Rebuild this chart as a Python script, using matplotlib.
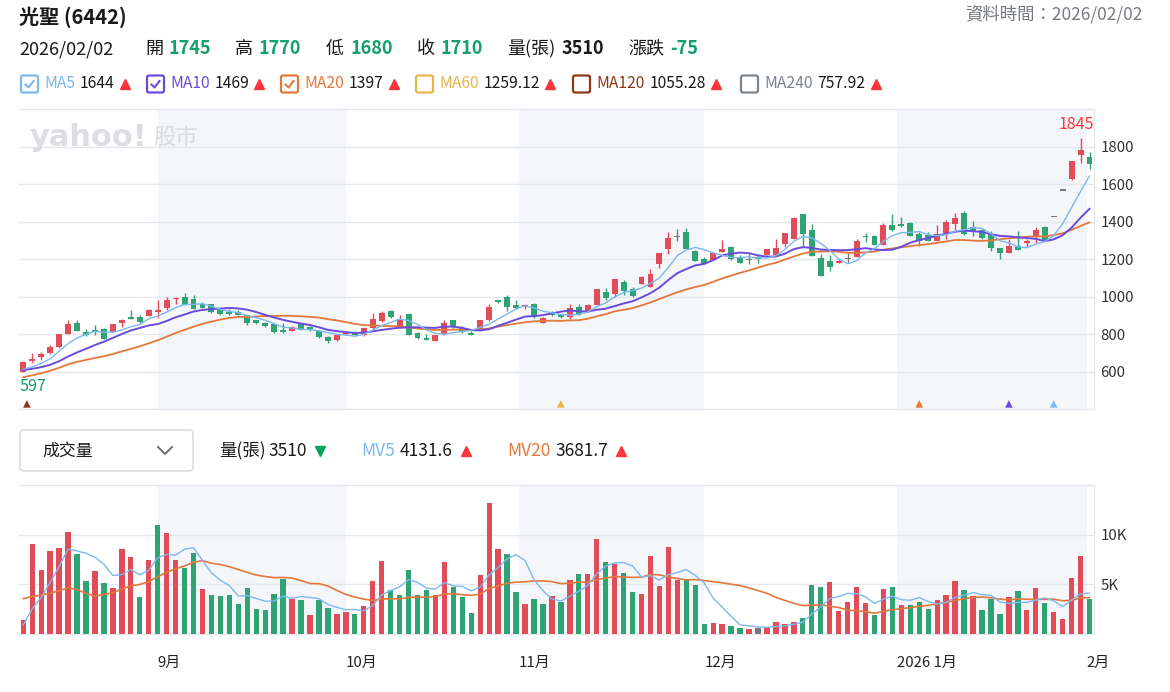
import numpy as np
import pandas as pd
import matplotlib
matplotlib.use("Agg")
import matplotlib.pyplot as plt
import matplotlib.transforms as mtransforms
from matplotlib.patches import FancyBboxPatch
from matplotlib.lines import Line2D

plt.rcParams["font.family"] = ["Noto Sans CJK TC", "DejaVu Sans"]

# daily bars 2025/08/11 .. 2026/02/02
opens = [598, 655, 677, 702, 731, 802, 859, 811, 823, 830,
         814, 862, 894, 891, 898, 917, 938, 987, 1001, 987,
         960, 960, 933, 921, 919, 903, 876, 862, 855, 823,
         818, 859, 840, 819, 784, 770, 800, 814, 796, 832,
         871, 926, 841, 908, 809, 782, 764, 800, 876, 834,
         806, 818, 876, 983, 1001, 956, 944, 962, 862, 917,
         903, 894, 948, 921, 956, 1027, 1015, 1081, 1042, 1068,
         1054, 1175, 1255, 1321, 1348, 1246, 1200, 1196, 1241, 1267,
         1209, 1200, 1210, 1223, 1223, 1282, 1307, 1442, 1356, 1209,
         1193, 1180, 1205, 1214, 1324, 1324, 1276, 1383, 1388, 1396,
         1335, 1330, 1298, 1339, 1388, 1449, 1374, 1356, 1335, 1259,
         1236, 1273, 1289, 1324, 1371, 1430, 1570, 1630, 1756, 1745]
highs = [655, 698, 707, 743, 802, 876, 876, 827, 848, 834,
         857, 884, 930, 903, 934, 983, 1001, 1001, 1022, 1010,
         974, 962, 935, 933, 930, 903, 878, 866, 862, 859,
         844, 862, 845, 823, 791, 798, 810, 818, 840, 912,
         925, 928, 903, 912, 811, 800, 798, 876, 878, 844,
         818, 878, 962, 985, 1010, 983, 962, 966, 890, 926,
         905, 962, 962, 962, 1042, 1049, 1093, 1090, 1054, 1110,
         1147, 1235, 1348, 1360, 1369, 1250, 1214, 1235, 1303, 1270,
         1223, 1228, 1228, 1255, 1306, 1342, 1428, 1442, 1388, 1228,
         1223, 1200, 1232, 1310, 1342, 1330, 1396, 1442, 1424, 1398,
         1348, 1348, 1383, 1410, 1449, 1456, 1404, 1360, 1353, 1259,
         1307, 1353, 1307, 1371, 1378, 1430, 1570, 1725, 1845, 1770]
lows = [597, 645, 663, 695, 728, 800, 815, 791, 796, 775,
        812, 841, 883, 862, 896, 885, 930, 960, 956, 933,
        939, 915, 905, 903, 901, 850, 855, 841, 809, 809,
        816, 825, 819, 782, 755, 766, 795, 793, 793, 823,
        867, 889, 832, 796, 777, 770, 763, 796, 835, 809,
        796, 816, 873, 969, 926, 935, 935, 889, 860, 898,
        889, 882, 903, 917, 955, 983, 1001, 1010, 1001, 1066,
        1054, 1152, 1228, 1300, 1255, 1189, 1175, 1194, 1241, 1198,
        1182, 1175, 1178, 1221, 1221, 1268, 1307, 1268, 1218, 1111,
        1140, 1180, 1182, 1210, 1294, 1276, 1276, 1353, 1374, 1324,
        1271, 1296, 1298, 1306, 1356, 1330, 1324, 1306, 1244, 1200,
        1236, 1250, 1268, 1289, 1300, 1430, 1570, 1625, 1712, 1680]
closes = [652, 670, 695, 731, 800, 855, 818, 796, 811, 777,
          855, 876, 883, 868, 932, 928, 983, 996, 956, 937,
          942, 917, 909, 906, 904, 862, 859, 844, 814, 811,
          841, 825, 830, 784, 766, 795, 807, 796, 835, 880,
          915, 891, 884, 796, 779, 770, 796, 862, 837, 812,
          797, 876, 948, 974, 944, 938, 956, 891, 887, 903,
          891, 939, 908, 956, 1040, 996, 1093, 1031, 1004, 1108,
          1122, 1235, 1315, 1321, 1255, 1191, 1175, 1232, 1253, 1200,
          1182, 1200, 1200, 1253, 1262, 1342, 1419, 1335, 1218, 1111,
          1157, 1189, 1205, 1300, 1317, 1276, 1383, 1356, 1378, 1324,
          1300, 1296, 1333, 1401, 1422, 1335, 1353, 1315, 1259, 1236,
          1270, 1250, 1295, 1355, 1300, 1430, 1570, 1725, 1785, 1710]
volumes = [1430, 9030, 6430, 8330, 8700, 10300, 8030, 5300, 6300, 5170,
           4670, 8530, 7800, 3700, 7430, 10930, 10200, 7430, 6670, 8200,
           4530, 3930, 3800, 3930, 3030, 4670, 2530, 2430, 4030, 5530,
           3530, 3430, 1930, 3430, 2670, 2030, 2270, 2030, 2800, 5300,
           7330, 4430, 3930, 6430, 3930, 4430, 3930, 7200, 4770, 3700,
           2170, 5930, 13170, 8530, 8030, 4270, 3030, 3530, 3030, 3830,
           3270, 5430, 6030, 6030, 9530, 7200, 7030, 6170, 4270, 4030,
           7900, 4830, 8800, 5430, 5500, 4930, 1030, 1170, 1030, 830,
           670, 530, 670, 770, 1270, 1030, 1270, 1670, 4900, 4770,
           5270, 2300, 3270, 4770, 3170, 1930, 4530, 4770, 2930, 2930,
           3270, 2530, 3430, 3930, 5300, 4430, 3830, 2430, 3530, 2030,
           3700, 4345, 2430, 4600, 3170, 2200, 1530, 5600, 7815, 3510]

# sessions before the window, only used to start the moving averages
pre_closes = [465, 470, 475, 478, 483, 560, 585, 600, 605, 607,
              600, 610, 605, 607, 605, 600, 605, 610, 598]
pre_volumes = [4300, 4100, 4000, 4200, 4199, 11500, 12800, 12000, 1700, 1467,
               1200, 1100, 1066, 1500, 1468, 900, 800, 750, 782]

month_labels = ["9月", "10月", "11月", "12月", "2026 1月", "2月"]
month_starts = [15, 36, 55.33, 76, 97.5, 118.67]

ma_names = ["MA5", "MA10", "MA20", "MA60", "MA120", "MA240"]
ma_values = ["1644", "1469", "1397", "1259.12", "1055.28", "757.92"]
ma_shown = [True, True, True, False, False, False]
vol_ma_names = ["MV5", "MV20"]
vol_ma_values = ["4131.6", "3681.7"]

signal_idx = [0.4, 60, 100, 110, 115]
signal_ma = ["MA120", "MA60", "MA20", "MA10", "MA5"]

RED, GREEN, GREY = "#e04c57", "#2fa374", "#777777"
GRID, BAND = "#e4e7eb", "#f4f6f9"
UP, DOWN = "#ff333a", "#00a35a"
VAL_GREEN = "#14a06b"
ma_colors = {"MA5": "#7cb8f2", "MA10": "#6a4bdc", "MA20": "#e2783a",
             "MA60": "#e8b54a", "MA120": "#8b3816", "MA240": "#7f858d"}
vol_ma_colors = {"MV5": "#7cb8f2", "MV20": "#e2783a"}

n = len(closes)
x = np.arange(n)
o, h, l, c = map(np.array, (opens, highs, lows, closes))
v = np.array(volumes)

all_c = pd.Series(pre_closes + closes)
all_v = pd.Series(pre_volumes + volumes)
ma = {f"MA{k}": all_c.rolling(k).mean().to_numpy()[-n:] for k in (5, 10, 20)}
mv = {f"MV{k}": all_v.rolling(k).mean().to_numpy()[-n:] for k in (5, 20)}

W, H = 1170, 692
fig = plt.figure(figsize=(W / 100, H / 100), dpi=100)
tr = fig.dpi_scale_trans
renderer = fig.canvas.get_renderer()


def at(px, py):
    return px / 100, (H - py) / 100


def put(px, py, s, **kw):
    kw.setdefault("va", "center")
    kw.setdefault("color", "#1a1a1a")
    return fig.text(*at(px, py), s, transform=tr, **kw)


def run(px, py, s, gap=0, **kw):
    t = put(px, py, s, **kw)
    return px + t.get_window_extent(renderer).width + gap


def tri(px, py, color, up=True, ms=7.5):
    fig.add_artist(Line2D([px / 100], [(H - py) / 100], transform=tr, lw=0,
                          marker="^" if up else "v", ms=ms, color=color))


def checkbox(px, py, color, checked):
    fig.add_artist(FancyBboxPatch(at(px, py + 8.5), 0.17, 0.17, transform=tr,
                                  boxstyle="round,pad=0,rounding_size=0.02",
                                  fc="white", ec=color, lw=1.6))
    if checked:
        xs = [px + 4.5, px + 7.5, px + 12.5]
        ys = [py + 0.5, py + 3.5, py - 3]
        fig.add_artist(Line2D([q / 100 for q in xs], [(H - q) / 100 for q in ys],
                              transform=tr, color=color, lw=1.5))


# header
put(19, 17, "光聖 (6442)", fontsize=14.5, fontweight="bold")
put(1143, 14, "資料時間：2026/02/02", fontsize=12.5, color="#777b80", ha="right")

row = [("開", f"{o[-1]}", VAL_GREEN, 145), ("高", f"{h[-1]}", VAL_GREEN, 235),
       ("低", f"{l[-1]}", VAL_GREEN, 326), ("收", f"{c[-1]}", VAL_GREEN, 417),
       ("量(張)", f"{v[-1]}", "#1a1a1a", 507),
       ("漲跌", f"{c[-1] - c[-2]}", VAL_GREEN, 628)]
put(19, 49, "2026/02/02", fontsize=13)
for lab, val, col, px in row:
    e = run(px, 49, lab, gap=6, fontsize=13)
    put(e, 49, val, fontsize=13, fontweight="bold", color=col)

# MA legend row
box_x = [21, 147, 281, 416, 573, 741]
for name, val, shown, bx in zip(ma_names, ma_values, ma_shown, box_x):
    col = ma_colors[name]
    checkbox(bx, 84, col, shown)
    e = run(bx + 23, 84, name, gap=5, fontsize=11.3, color=col)
    e = run(e, 84, val, gap=0, fontsize=11.3)
    tri(e + 10, 84, UP)

# axes
left, right = 18.8, 1094.0
ax = fig.add_axes([left / W, 1 - 409.3 / H, (right - left) / W, 300 / H])
axv = fig.add_axes([left / W, 1 - 634.3 / H, (right - left) / W, 149.6 / H])

for a, ticks, labels in ((ax, np.arange(400, 2001, 200), None),
                         (axv, [0, 5000, 10000, 15000], ["", "5K", "10K", ""])):
    a.set_xlim(-0.5, n - 0.5)
    a.set_ylim(ticks[0], ticks[-1])
    for s in ("left", "top", "bottom"):
        a.spines[s].set_visible(False)
    a.spines["right"].set_color(GRID)
    a.set_xticks([])
    a.yaxis.tick_right()
    a.set_yticks(ticks)
    if labels is None:
        labels = [""] + [str(t) for t in ticks[1:-1]] + [""]
    a.set_yticklabels(labels)
    a.tick_params(axis="y", length=0, pad=4.5, labelsize=10.8, labelcolor="#333333")
    for t in ticks:
        a.axhline(t, color=GRID, lw=1, zorder=0.5, clip_on=False)
    bounds = month_starts + [n - 0.5]
    for k in range(0, len(month_starts) - 1, 2):
        a.axvspan(bounds[k], bounds[k + 1], color=BAND, lw=0, zorder=0.2)

# candles
body_col = np.where(c > o, RED, np.where(c < o, GREEN, GREY))
body_h = np.maximum(np.abs(c - o), 7)
ax.vlines(x, l, h, colors=body_col, lw=1, zorder=3)
ax.bar(x, body_h, bottom=(o + c) / 2 - body_h / 2, width=0.66,
       color=body_col, lw=0, zorder=3)

ax.plot(x, ma["MA20"], color=ma_colors["MA20"], lw=1.3, zorder=4)
ax.plot(x, ma["MA10"], color=ma_colors["MA10"], lw=1.4, zorder=4)
ax.plot(x, ma["MA5"], color=ma_colors["MA5"], lw=1.0, zorder=4)

ih, il = int(np.argmax(h)), int(np.argmin(l))
ax.annotate(f"{h[ih]}", (ih, h[ih]), xytext=(-3.2, 10), textcoords="offset points",
            ha="center", va="center", color=UP, fontsize=11.5)
ax.annotate(f"{l[il]}", (il, l[il]), xytext=(6.6, -10), textcoords="offset points",
            ha="center", va="center", color=VAL_GREEN, fontsize=11.5)

bt = mtransforms.blended_transform_factory(ax.transData, ax.transAxes)
ax.scatter(signal_idx, [0.018] * len(signal_idx), marker="^", s=30, transform=bt,
           c=[ma_colors[m] for m in signal_ma], lw=0, zorder=5, clip_on=False)

# watermark
put(30, 137, "yahoo!", fontsize=22, fontweight="bold", color="#dcdee2",
    family="DejaVu Sans")
put(153, 137, "股市", fontsize=16, color="#d9dbdf")

# volume panel
prev = np.r_[pre_closes[-1], c[:-1]]
vol_col = np.where(c > prev, RED, np.where(c < prev, GREEN, GREY))
axv.bar(x, v, width=0.6, color=vol_col, lw=0, zorder=3)
axv.plot(x, mv["MV20"], color=vol_ma_colors["MV20"], lw=1.2, zorder=4)
axv.plot(x, mv["MV5"], color=vol_ma_colors["MV5"], lw=1.0, zorder=4)

bv = mtransforms.blended_transform_factory(axv.transData, axv.transAxes)
for lab, ms_ in zip(month_labels, month_starts):
    axv.text(ms_, -0.19, lab, transform=bv, ha="left", va="center",
             fontsize=10.8, color="#222222")

# volume header
fig.add_artist(FancyBboxPatch(at(20, 471), 1.73, 0.41, transform=tr,
                              boxstyle="round,pad=0,rounding_size=0.04",
                              fc="white", ec="#d3d7dc", lw=1))
put(42, 451, "成交量", fontsize=12.2)
fig.add_artist(Line2D([1.58, 1.65, 1.72], [(H - 447) / 100, (H - 454) / 100, (H - 447) / 100],
                      transform=tr, color="#666666", lw=1.3))
e = run(219, 451, "量(張)", gap=3, fontsize=12.5)
e = run(e, 451, f"{v[-1]}", fontsize=12.5)
tri(e + 13, 451, DOWN, up=False)
for name, val, px in zip(vol_ma_names, vol_ma_values, [361, 507]):
    e = run(px, 451, name, gap=5, fontsize=12.5, color=vol_ma_colors[name])
    e = run(e, 451, val, fontsize=12.5)
    tri(e + 13, 451, UP)

fig.savefig("out.png", dpi=100)
